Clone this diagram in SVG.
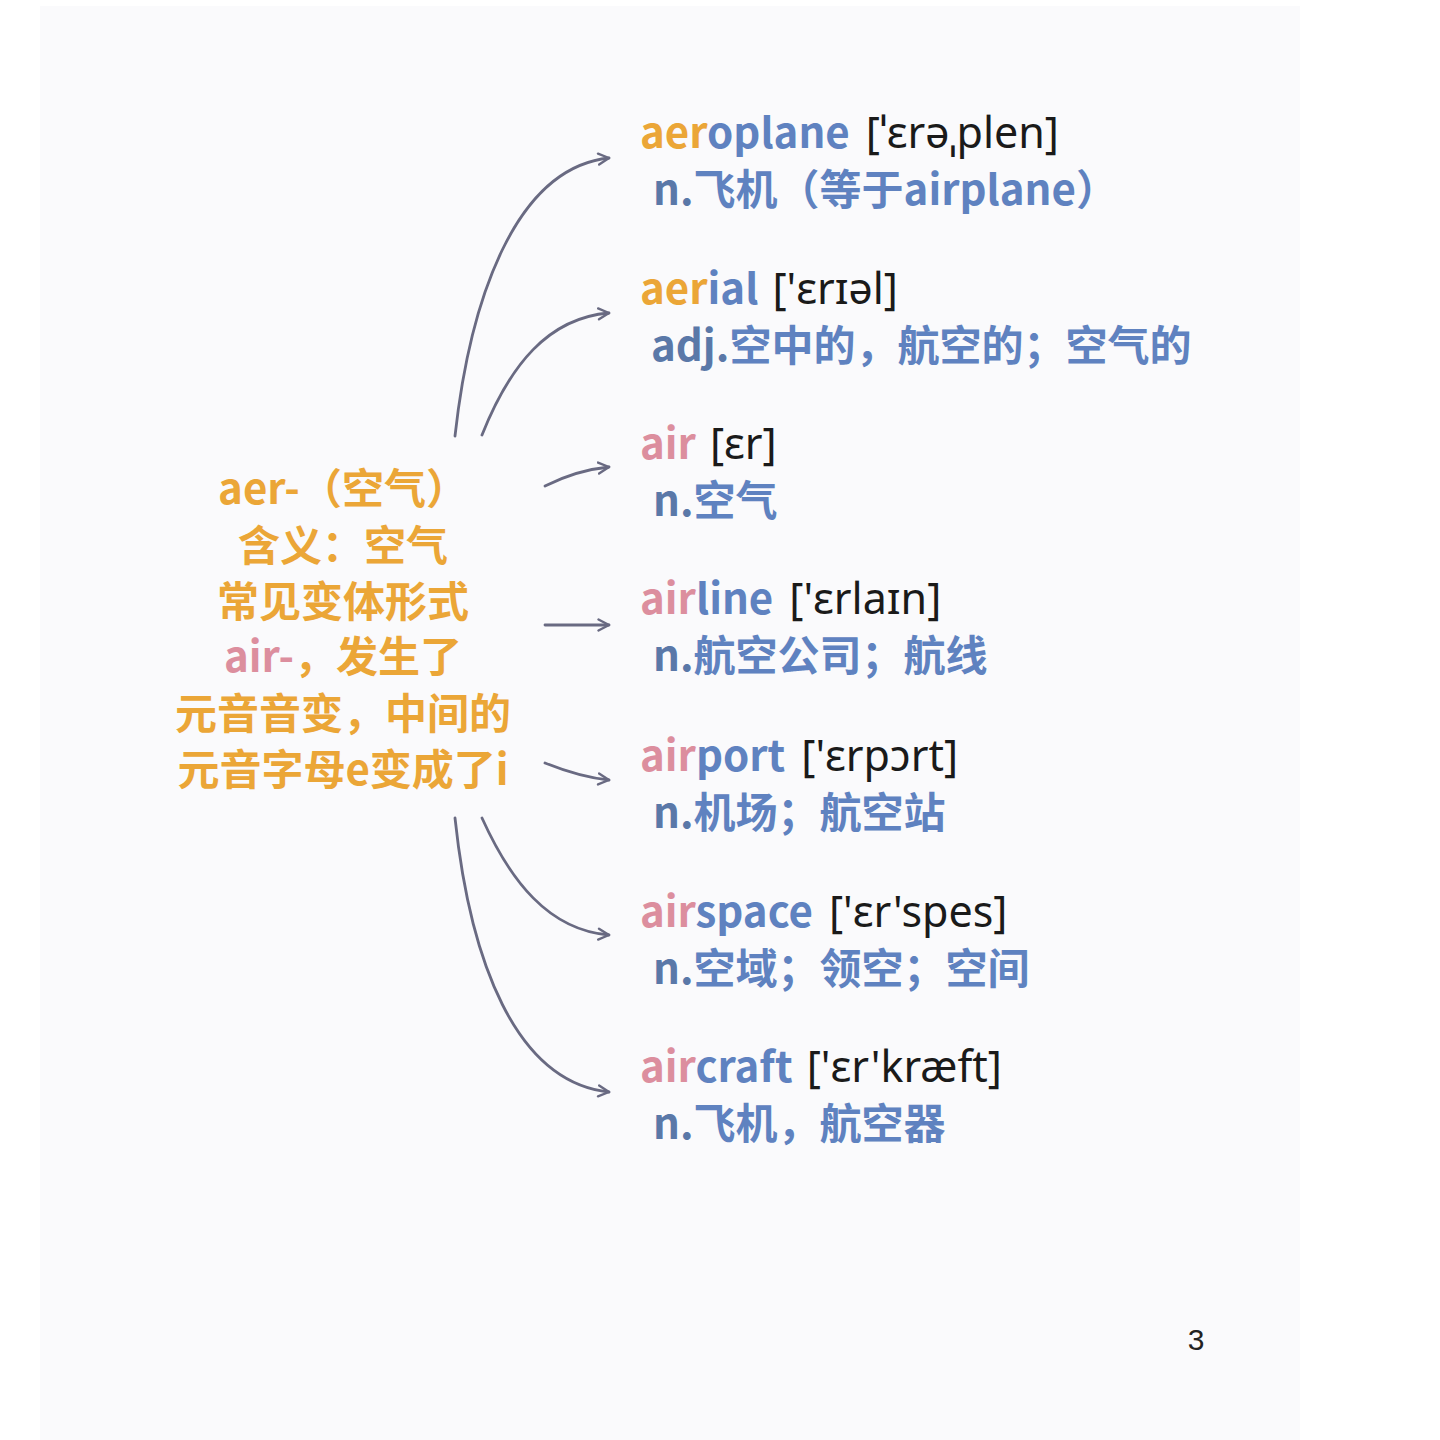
<svg xmlns="http://www.w3.org/2000/svg" width="1440" height="1440" viewBox="0 0 1440 1440">
<defs>
<style>
.bg{fill:#ffffff}
.panel{fill:#fafafc}
.cn{font-family:"Noto Sans CJK SC","Noto Sans",sans-serif;font-weight:700}
.ph{font-family:"Noto Sans","DejaVu Sans",sans-serif;font-weight:400;fill:#1a1a1a;font-size:43px}
.or{fill:#eba637}
.bl{fill:#5f82c0}
.dk{fill:#5a78a8}
.pk{fill:#dc8e9e}
.w{font-size:42px}
.d{font-size:42px}
.root{font-size:42px;text-anchor:middle}
.conn{fill:none;stroke:#696a82;stroke-width:2.8;stroke-linecap:round}
</style>
<marker id="arr" viewBox="0 0 14 14" refX="12" refY="7" markerWidth="14" markerHeight="14" markerUnits="userSpaceOnUse" orient="auto">
<path d="M1.5,1.5 L12,7 L1.5,12.5" fill="none" stroke="#696a82" stroke-width="2.4" stroke-linecap="round" stroke-linejoin="round"/>
</marker>
</defs>
<rect class="bg" x="0" y="0" width="1440" height="1440"/>
<rect class="panel" x="40" y="6" width="1260" height="1434"/>

<g id="connectors">
<path class="conn" marker-end="url(#arr)" d="M455,436 C470,300 515,168 609,158"/>
<path class="conn" marker-end="url(#arr)" d="M482,435 C510,365 548,318 609,313"/>
<path class="conn" marker-end="url(#arr)" d="M545,486 C565,476 588,469 609,467"/>
<path class="conn" marker-end="url(#arr)" d="M545,625 L609,625"/>
<path class="conn" marker-end="url(#arr)" d="M545,763 C565,771 588,778 609,780"/>
<path class="conn" marker-end="url(#arr)" d="M482,818 C510,880 548,930 609,935"/>
<path class="conn" marker-end="url(#arr)" d="M455,818 C470,960 515,1082 609,1092"/>
</g>

<g id="root">
<text class="cn root or" x="343" y="504">aer-（空气）</text>
<text class="cn root or" x="343" y="561">含义：空气</text>
<text class="cn root or" x="343" y="617">常见变体形式</text>
<text class="cn root or" x="343" y="672"><tspan class="pk">air-</tspan>，发生了</text>
<text class="cn root or" x="343" y="729">元音音变，中间的</text>
<text class="cn root or" x="343" y="785">元音字母e变成了i</text>
</g>

<g id="aeroplane">
<text x="640" y="148"><tspan class="cn w or">aer</tspan><tspan class="cn w bl">oplane</tspan><tspan class="ph" dx="16">[ˈɛrəˌplen]</tspan></text>
<text class="cn d" x="653" y="205"><tspan class="dk">n.</tspan><tspan class="bl">飞机（等于airplane）</tspan></text>
</g>

<g id="aerial">
<text x="640" y="304"><tspan class="cn w or">aer</tspan><tspan class="cn w bl">ial</tspan><tspan class="ph" dx="14">['ɛrɪəl]</tspan></text>
<text class="cn d" x="651" y="361"><tspan class="dk">adj.</tspan><tspan class="bl">空中的，航空的；空气的</tspan></text>
</g>

<g id="air">
<text x="640" y="459"><tspan class="cn w pk">air</tspan><tspan class="ph" dx="14">[ɛr]</tspan></text>
<text class="cn d" x="653" y="516"><tspan class="dk">n.</tspan><tspan class="bl">空气</tspan></text>
</g>

<g id="airline">
<text x="640" y="614"><tspan class="cn w pk">air</tspan><tspan class="cn w bl">line</tspan><tspan class="ph" dx="16">['ɛrlaɪn]</tspan></text>
<text class="cn d" x="653" y="671"><tspan class="dk">n.</tspan><tspan class="bl">航空公司；航线</tspan></text>
</g>

<g id="airport">
<text x="640" y="771"><tspan class="cn w pk">air</tspan><tspan class="cn w bl">port</tspan><tspan class="ph" dx="16">['ɛrpɔrt]</tspan></text>
<text class="cn d" x="653" y="828"><tspan class="dk">n.</tspan><tspan class="bl">机场；航空站</tspan></text>
</g>

<g id="airspace">
<text x="640" y="927"><tspan class="cn w pk">air</tspan><tspan class="cn w bl">space</tspan><tspan class="ph" dx="16">['ɛr'spes]</tspan></text>
<text class="cn d" x="653" y="984"><tspan class="dk">n.</tspan><tspan class="bl">空域；领空；空间</tspan></text>
</g>

<g id="aircraft">
<text x="640" y="1082"><tspan class="cn w pk">air</tspan><tspan class="cn w bl">craft</tspan><tspan class="ph" dx="14">['ɛr'kræft]</tspan></text>
<text class="cn d" x="653" y="1139"><tspan class="dk">n.</tspan><tspan class="bl">飞机，航空器</tspan></text>
</g>

<text x="1196" y="1350" font-family="'Liberation Sans',Arial,sans-serif" font-size="30" fill="#222" text-anchor="middle">3</text>
</svg>
